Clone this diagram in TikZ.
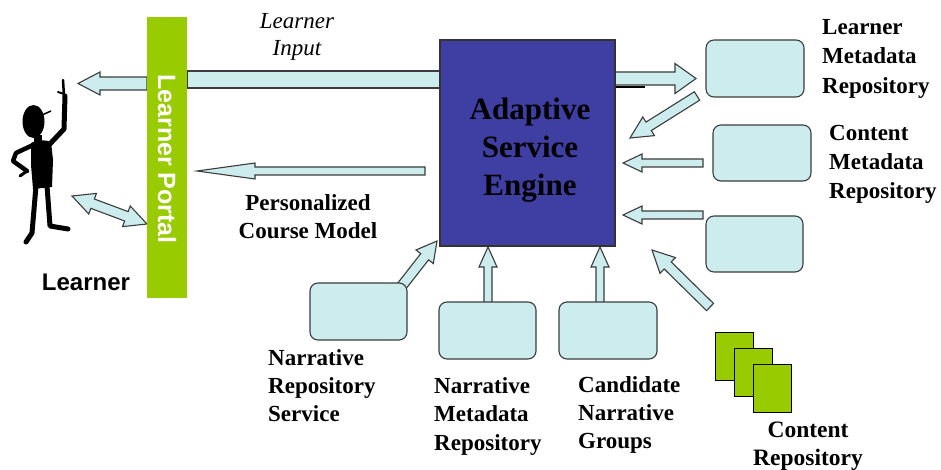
\documentclass[tikz,border=0pt]{standalone}
\usepackage{fontspec}
\setmainfont{Liberation Serif}
\newfontfamily\arialfont{Liberation Sans}
\usetikzlibrary{calc}
\definecolor{boxfill}{RGB}{204,236,238}
\definecolor{engblue}{RGB}{62,62,163}
\definecolor{portgreen}{RGB}{153,204,0}
\definecolor{edgegray}{RGB}{60,60,60}
\tikzset{
  arrowbody/.style={draw=edgegray, fill=boxfill, line width=1.1pt, line join=miter},
  repobox/.style={draw=edgegray, fill=boxfill, rounded corners=8pt, line width=1.1pt, minimum width=97pt, minimum height=57pt, inner sep=0pt},
  enginebox/.style={draw=black!80, fill=engblue, line width=1.2pt, minimum width=175pt, minimum height=206pt, inner sep=0pt},
  pagebox/.style={draw=black, fill=portgreen, line width=1pt, minimum width=38pt, minimum height=48pt, inner sep=0pt},
  lbl/.style={font=\bfseries\fontsize{23}{28.5}\selectfont, inner sep=0pt, align=left, anchor=north west},
  clbl/.style={font=\bfseries\fontsize{23}{28}\selectfont, inner sep=0pt, align=center, anchor=north},
}
% single-headed block arrow: start, tip, half shaft, half head, head length
\newcommand\blockarrow[5]{%
  \coordinate (bh) at ($(#2)!#5!(#1)$);
  \draw[arrowbody] ($(#1)!#3!90:(#2)$) -- ($(bh)!#3!90:(#2)$) -- ($(bh)!#4!90:(#2)$) -- (#2)
    -- ($(bh)!#4!-90:(#2)$) -- ($(bh)!#3!-90:(#2)$) -- ($(#1)!#3!-90:(#2)$) -- cycle;}
% double-headed block arrow
\newcommand\dblarrow[5]{%
  \coordinate (bha) at ($(#1)!#5!(#2)$);
  \coordinate (bhb) at ($(#2)!#5!(#1)$);
  \draw[arrowbody] (#1) -- ($(bha)!#4!90:(#2)$) -- ($(bha)!#3!90:(#2)$) -- ($(bhb)!#3!90:(#2)$)
    -- ($(bhb)!#4!90:(#2)$) -- (#2) -- ($(bhb)!#4!-90:(#2)$) -- ($(bhb)!#3!-90:(#2)$)
    -- ($(bha)!#3!-90:(#2)$) -- ($(bha)!#4!-90:(#2)$) -- cycle;}
\begin{document}
\begin{tikzpicture}[x=1pt,y=-1pt]
\useasboundingbox (0,0) rectangle (941,470);
\fill[white] (0,0) rectangle (941,470);

% arrow end points
\coordinate (liA) at (187,71);
\coordinate (liB) at (440,88);
\coordinate (ltS) at (147,83.5);
\coordinate (ltE) at (78,83.5);
\coordinate (pcS) at (425,171);
\coordinate (pcE) at (197,171);
\coordinate (dbA) at (72,196);
\coordinate (dbB) at (147,224);
\coordinate (elS) at (615,78.5);
\coordinate (elE) at (696,78.5);
\coordinate (leS) at (697,96);
\coordinate (leE) at (630,138);
\coordinate (ceS) at (703,163);
\coordinate (ceE) at (623,163);
\coordinate (beS) at (703,215);
\coordinate (beE) at (623,215);
\coordinate (crS) at (710,307);
\coordinate (crE) at (652,250);
\coordinate (nrS) at (401,287);
\coordinate (nrE) at (437,241);
\coordinate (nmS) at (488,303);
\coordinate (nmE) at (488,247);
\coordinate (cnS) at (600,303);
\coordinate (cnE) at (600,247);
\coordinate (blA) at (615,87);
\coordinate (blB) at (645,87);

% arrows
\draw[arrowbody] (liA) rectangle (liB);
\blockarrow{ltS}{ltE}{6.5pt}{11.5pt}{22pt}
\blockarrow{pcS}{pcE}{4pt}{8pt}{58pt}
\dblarrow{dbA}{dbB}{5pt}{11pt}{22pt}
\blockarrow{elS}{elE}{6.5pt}{15pt}{21pt}
\draw[line width=2pt] (blA) -- (blB);
\blockarrow{leS}{leE}{5pt}{11pt}{22pt}
\blockarrow{ceS}{ceE}{4pt}{9pt}{19pt}
\blockarrow{beS}{beE}{4pt}{9pt}{19pt}
\blockarrow{crS}{crE}{5pt}{11pt}{22pt}
\blockarrow{nrS}{nrE}{5pt}{11pt}{20pt}
\blockarrow{nmS}{nmE}{4pt}{9pt}{20pt}
\blockarrow{cnS}{cnE}{4pt}{9pt}{20pt}

% learner portal
\node[fill=portgreen, minimum width=40pt, minimum height=281pt, inner sep=0pt] (portal) at (167,157.5) {};
\node[rotate=-90, text=white, font=\arialfont\bfseries\fontsize{25}{30}\selectfont, inner sep=0pt] (portaltxt) at (167,159) {Learner Portal};

% engine
\node[enginebox] (engine) at (527.5,143) {};
\node[font=\bfseries\fontsize{31}{38}\selectfont, align=center, anchor=north, inner sep=0pt] (enginetxt) at (530,98) {Adaptive\\Service\\Engine};

% repositories
\node[repobox, minimum width=98pt] (lmr) at (755,68.5) {};
\node[repobox, minimum width=98pt, minimum height=56pt] (cmr) at (762,153) {};
\node[repobox, minimum height=56pt] (box3) at (754.5,244) {};
\node[repobox] (nrs) at (358.5,311.5) {};
\node[repobox] (nmr) at (487.5,330.5) {};
\node[repobox, minimum width=98pt] (cng) at (608,330.5) {};

% content pages
\node[pagebox] (pg1) at (734,356.5) {};
\node[pagebox] (pg2) at (753,372.5) {};
\node[pagebox] (pg3) at (772,388.5) {};

% labels
\node[lbl, font=\bfseries\fontsize{23}{29.5}\selectfont] (lmrl) at (822,19) {Learner\\Metadata\\Repository};
\node[lbl, font=\bfseries\fontsize{23}{29}\selectfont] (cmrl) at (829,125) {Content\\Metadata\\Repository};
\node[lbl, font=\bfseries\fontsize{23}{28}\selectfont] (nrsl) at (268,349) {Narrative\\Repository\\Service};
\node[lbl] (nmrl) at (434,377) {Narrative\\Metadata\\Repository};
\node[lbl, font=\bfseries\fontsize{23}{28}\selectfont] (cngl) at (578,376) {Candidate\\Narrative\\Groups};
\node[clbl, font=\bfseries\fontsize{23.5}{28}\selectfont] (crl) at (808,422) {Content\\Repository};
\node[clbl] (pcml) at (308,194) {Personalized\\Course Model};
\node[clbl, font=\itshape\fontsize{23}{27}\selectfont] (lil) at (297,13) {Learner\\Input};
\node[font=\arialfont\bfseries\fontsize{24}{28}\selectfont, inner sep=0pt] (learnerl) at (86,282) {Learner};

% learner figure
\begin{scope}[black]
  \fill (33.5,121.5) ellipse (11 and 16.5);
  \draw[line width=1.5pt] (42,115) -- (51,111);
  \fill (34,135) rectangle (42,145);
  \fill (31,143) .. controls (38,139) and (46,140) .. (51,142) -- (53,160) -- (52,187) -- (33,189) -- (31,165) -- cycle;
  \draw[line width=5pt, line cap=round, line join=round] (48,146) -- (64,129) -- (65,96);
  \draw[line width=2.5pt, line cap=round] (64,96) -- (63,80);
  \draw[line width=2pt, line cap=round] (64,94) -- (58,92);
  \draw[line width=4.5pt, line cap=round, line join=round] (33,145) -- (16,153) -- (13,161) -- (27,171);
  \draw[line width=3pt, line cap=round] (27,171) -- (20,176);
  \draw[line width=5pt, line cap=round, line join=round] (36,186) -- (32,233) -- (26,242);
  \draw[line width=5pt, line cap=round, line join=round] (47,186) -- (50,226) -- (68,229);
\end{scope}
\end{tikzpicture}
\end{document}
